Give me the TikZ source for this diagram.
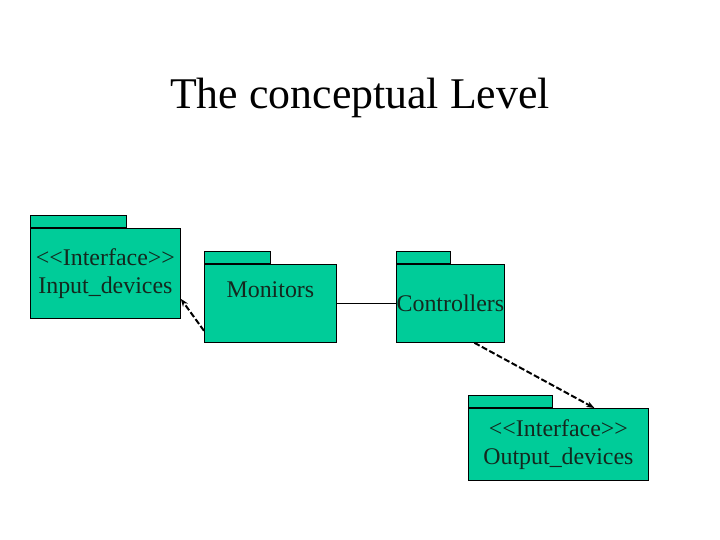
\documentclass[tikz,border=0pt]{standalone}
\usepackage{fontspec}
\setmainfont{Liberation Serif}[Ligatures=TeXOff]
\usepackage{tikz}
\usetikzlibrary{arrows.meta, positioning}
\definecolor{pkggreen}{RGB}{0,204,153}
\definecolor{pkgdark}{RGB}{20,40,30}
\tikzset{
  pkgbody/.style={rectangle, draw=black, fill=pkggreen, line width=0.8pt,
    anchor=north west, inner sep=0pt, align=center, text=pkgdark,
    font=\fontsize{24}{28}\selectfont},
  pkgtab/.style={rectangle, draw=black, fill=pkggreen, line width=0.8pt,
    anchor=south west, inner sep=0pt, minimum height=12bp},
  dep/.style={-{Stealth[length=8pt, width=6pt]}, line width=2pt, dash pattern=on 6pt off 2.5pt},
  line/.style={line width=0.8pt}
}

\begin{document}
\begin{tikzpicture}[x=1bp, y=-1bp]
  \useasboundingbox (0,0) rectangle (720,540);

  % Title
  \node[font=\fontsize{44}{50}\selectfont] (title) at (360,98) {The conceptual Level};

  % Packages
  \node[pkgbody, minimum width=150bp, minimum height=90bp] (inBody) at (30,228)
    {<<Interface>>\\Input\_devices};
  \node[pkgtab, minimum width=96bp] (inTab) at (inBody.north west) {};

  \node[pkgbody, minimum width=132bp, minimum height=78bp] (monBody) at (204,264) {};
  \node[pkgtab, minimum width=66bp] (monTab) at (monBody.north west) {};
  \node[text=pkgdark, font=\fontsize{24}{28}\selectfont] (monText)
    at ([yshift=-26bp]monBody.north) {Monitors};

  \node[pkgbody, minimum width=108bp, minimum height=78bp] (ctlBody) at (396,264) {Controllers};
  \node[pkgtab, minimum width=54bp] (ctlTab) at (ctlBody.north west) {};

  \node[pkgbody, minimum width=180bp, minimum height=72bp] (outBody) at (468,408)
    {<<Interface>>\\Output\_devices};
  \node[pkgtab, minimum width=84bp] (outTab) at (outBody.north west) {};

  % Connectors
  \draw[dep] ([yshift=12bp]monBody.south west) -- ([yshift=20bp]inBody.south east);
  \draw[line] (monBody.east) -- (ctlBody.west);
  \draw[dep] ([xshift=24bp]ctlBody.south) -- ([xshift=36bp]outBody.north);
\end{tikzpicture}
\end{document}
